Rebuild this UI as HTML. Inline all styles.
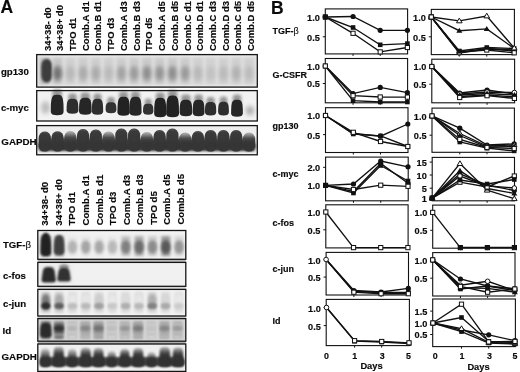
<!DOCTYPE html><html><head><meta charset="utf-8"><style>html,body{margin:0;padding:0;background:#fff;width:520px;height:372px;overflow:hidden}svg{display:block;filter:grayscale(1)}text{font-family:"Liberation Sans",sans-serif;fill:#0a0a0a;stroke:#0a0a0a;stroke-width:0.15px}</style></head><body>
<svg width="520" height="372" viewBox="0 0 520 372">
<defs><filter id="f75" x="-50%" y="-50%" width="200%" height="200%"><feGaussianBlur stdDeviation="0.75"/></filter><filter id="f80" x="-50%" y="-50%" width="200%" height="200%"><feGaussianBlur stdDeviation="0.8"/></filter><filter id="f90" x="-50%" y="-50%" width="200%" height="200%"><feGaussianBlur stdDeviation="0.9"/></filter><filter id="f100" x="-50%" y="-50%" width="200%" height="200%"><feGaussianBlur stdDeviation="1.0"/></filter><filter id="f110" x="-50%" y="-50%" width="200%" height="200%"><feGaussianBlur stdDeviation="1.1"/></filter><filter id="f120" x="-50%" y="-50%" width="200%" height="200%"><feGaussianBlur stdDeviation="1.2"/></filter><filter id="f130" x="-50%" y="-50%" width="200%" height="200%"><feGaussianBlur stdDeviation="1.3"/></filter><filter id="f150" x="-50%" y="-50%" width="200%" height="200%"><feGaussianBlur stdDeviation="1.5"/></filter><filter id="f160" x="-50%" y="-50%" width="200%" height="200%"><feGaussianBlur stdDeviation="1.6"/></filter><filter id="f170" x="-50%" y="-50%" width="200%" height="200%"><feGaussianBlur stdDeviation="1.7"/></filter><filter id="f180" x="-50%" y="-50%" width="200%" height="200%"><feGaussianBlur stdDeviation="1.8"/></filter><filter id="f200" x="-50%" y="-50%" width="200%" height="200%"><feGaussianBlur stdDeviation="2.0"/></filter>
<linearGradient id="gA" x1="0" y1="0" x2="0" y2="1"><stop offset="0" stop-color="#555"/><stop offset="0.12" stop-color="#3a3a3a"/><stop offset="1" stop-color="#363636"/></linearGradient>
<linearGradient id="gB" x1="0" y1="0" x2="0" y2="1"><stop offset="0" stop-color="#b8b8b8"/><stop offset="0.3" stop-color="#4c4c4c"/><stop offset="0.45" stop-color="#3c3c3c"/><stop offset="1" stop-color="#383838"/></linearGradient>
<linearGradient id="gD" x1="0" y1="0" x2="0" y2="1"><stop offset="0" stop-color="#b4b4b4"/><stop offset="0.3" stop-color="#444"/><stop offset="0.45" stop-color="#353535"/><stop offset="1" stop-color="#333"/></linearGradient>
<linearGradient id="gE" x1="0" y1="0" x2="0" y2="1"><stop offset="0" stop-color="#cccccc"/><stop offset="0.4" stop-color="#555"/><stop offset="0.55" stop-color="#383838"/><stop offset="1" stop-color="#353535"/></linearGradient>
</defs>
<text x="0.5" y="12.7" font-size="17.5" text-anchor="start" font-weight="bold" >A</text>
<text transform="translate(50.6,51.0) rotate(-90)" font-size="9.5" font-weight="bold">34+38- d0</text>
<text transform="translate(63.32,51.0) rotate(-90)" font-size="9.5" font-weight="bold">34+38+ d0</text>
<text transform="translate(76.04,51.0) rotate(-90)" font-size="9.5" font-weight="bold">TPO d1</text>
<text transform="translate(88.76,51.0) rotate(-90)" font-size="9.5" font-weight="bold">Comb.A d1</text>
<text transform="translate(101.48,51.0) rotate(-90)" font-size="9.5" font-weight="bold">Comb.B d1</text>
<text transform="translate(114.2,51.0) rotate(-90)" font-size="9.5" font-weight="bold">TPO d3</text>
<text transform="translate(126.92000000000002,51.0) rotate(-90)" font-size="9.5" font-weight="bold">Comb.A d3</text>
<text transform="translate(139.64000000000001,51.0) rotate(-90)" font-size="9.5" font-weight="bold">Comb.B d3</text>
<text transform="translate(152.36,51.0) rotate(-90)" font-size="9.5" font-weight="bold">TPO d5</text>
<text transform="translate(165.08,51.0) rotate(-90)" font-size="9.5" font-weight="bold">Comb.A d5</text>
<text transform="translate(177.8,51.0) rotate(-90)" font-size="9.5" font-weight="bold">Comb.B d5</text>
<text transform="translate(190.52,51.0) rotate(-90)" font-size="9.5" font-weight="bold">Comb.C d1</text>
<text transform="translate(203.24,51.0) rotate(-90)" font-size="9.5" font-weight="bold">Comb.D d1</text>
<text transform="translate(215.96,51.0) rotate(-90)" font-size="9.5" font-weight="bold">Comb.C d3</text>
<text transform="translate(228.68,51.0) rotate(-90)" font-size="9.5" font-weight="bold">Comb.D d3</text>
<text transform="translate(241.4,51.0) rotate(-90)" font-size="9.5" font-weight="bold">Comb.C d5</text>
<text transform="translate(254.12,51.0) rotate(-90)" font-size="9.5" font-weight="bold">Comb.D d5</text>
<text x="0.9" y="75.3" font-size="9.7" text-anchor="start" font-weight="bold" >gp130</text>
<text x="0.9" y="110.7" font-size="9.7" text-anchor="start" font-weight="bold" >c-myc</text>
<text x="1.3" y="145.3" font-size="9.8" text-anchor="start" font-weight="bold" >GAPDH</text>
<rect x="36.70" y="54.60" width="220.60" height="32.50" fill="#e8e8e8" opacity="1.0"/>
<rect x="38.00" y="57.00" width="218.00" height="28.00" fill="#dedede" opacity="1.0" filter="url(#f100)"/>
<rect x="40.30" y="58.00" width="9.00" height="26.00" fill="#bababa" opacity="1.0" filter="url(#f150)"/>
<rect x="41.2" y="59.0" width="11" height="23.5" rx="5.2" ry="7" fill="#3e3e3e" filter="url(#f90)"/>
<rect x="53.06" y="58.00" width="9.00" height="26.00" fill="#c6c6c6" opacity="1.0" filter="url(#f150)"/>
<ellipse cx="57.56" cy="73.20" rx="4.30" ry="7.50" fill="#707070" opacity="1.0" filter="url(#f200)"/>
<rect x="65.82" y="58.00" width="9.00" height="26.00" fill="#d0d0d0" opacity="1.0" filter="url(#f150)"/>
<ellipse cx="70.32" cy="73.20" rx="4.30" ry="7.50" fill="#b8b8b8" opacity="1.0" filter="url(#f200)"/>
<rect x="78.58" y="58.00" width="9.00" height="26.00" fill="#cecece" opacity="1.0" filter="url(#f150)"/>
<ellipse cx="83.08" cy="73.20" rx="4.30" ry="7.50" fill="#aaaaaa" opacity="1.0" filter="url(#f200)"/>
<rect x="91.34" y="58.00" width="9.00" height="26.00" fill="#cecece" opacity="1.0" filter="url(#f150)"/>
<ellipse cx="95.84" cy="73.20" rx="4.30" ry="7.50" fill="#aaaaaa" opacity="1.0" filter="url(#f200)"/>
<rect x="104.10" y="58.00" width="9.00" height="26.00" fill="#d0d0d0" opacity="1.0" filter="url(#f150)"/>
<ellipse cx="108.60" cy="73.20" rx="4.30" ry="7.50" fill="#bababa" opacity="1.0" filter="url(#f200)"/>
<rect x="116.86" y="58.00" width="9.00" height="26.00" fill="#cdcdcd" opacity="1.0" filter="url(#f150)"/>
<ellipse cx="121.36" cy="73.20" rx="4.30" ry="7.50" fill="#a1a1a1" opacity="1.0" filter="url(#f200)"/>
<rect x="129.62" y="58.00" width="9.00" height="26.00" fill="#cccccc" opacity="1.0" filter="url(#f150)"/>
<ellipse cx="134.12" cy="73.20" rx="4.30" ry="7.50" fill="#9a9a9a" opacity="1.0" filter="url(#f200)"/>
<rect x="142.38" y="58.00" width="9.00" height="26.00" fill="#cacaca" opacity="1.0" filter="url(#f150)"/>
<ellipse cx="146.88" cy="73.20" rx="4.30" ry="7.50" fill="#8c8c8c" opacity="1.0" filter="url(#f200)"/>
<rect x="155.14" y="58.00" width="9.00" height="26.00" fill="#cbcbcb" opacity="1.0" filter="url(#f150)"/>
<ellipse cx="159.64" cy="73.20" rx="4.30" ry="7.50" fill="#939393" opacity="1.0" filter="url(#f200)"/>
<rect x="167.90" y="58.00" width="9.00" height="26.00" fill="#cacaca" opacity="1.0" filter="url(#f150)"/>
<ellipse cx="172.40" cy="73.20" rx="4.30" ry="7.50" fill="#8c8c8c" opacity="1.0" filter="url(#f200)"/>
<rect x="180.66" y="58.00" width="9.00" height="26.00" fill="#cccccc" opacity="1.0" filter="url(#f150)"/>
<ellipse cx="185.16" cy="73.20" rx="4.30" ry="7.50" fill="#989898" opacity="1.0" filter="url(#f200)"/>
<rect x="193.42" y="58.00" width="9.00" height="26.00" fill="#d0d0d0" opacity="1.0" filter="url(#f150)"/>
<ellipse cx="197.92" cy="73.20" rx="4.30" ry="7.50" fill="#b8b8b8" opacity="1.0" filter="url(#f200)"/>
<rect x="206.18" y="58.00" width="9.00" height="26.00" fill="#d1d1d1" opacity="1.0" filter="url(#f150)"/>
<ellipse cx="210.68" cy="73.20" rx="4.30" ry="7.50" fill="#c1c1c1" opacity="1.0" filter="url(#f200)"/>
<rect x="218.94" y="58.00" width="9.00" height="26.00" fill="#d0d0d0" opacity="1.0" filter="url(#f150)"/>
<ellipse cx="223.44" cy="73.20" rx="4.30" ry="7.50" fill="#bababa" opacity="1.0" filter="url(#f200)"/>
<rect x="231.70" y="58.00" width="9.00" height="26.00" fill="#cfcfcf" opacity="1.0" filter="url(#f150)"/>
<ellipse cx="236.20" cy="73.20" rx="4.30" ry="7.50" fill="#b1b1b1" opacity="1.0" filter="url(#f200)"/>
<rect x="244.46" y="58.00" width="9.00" height="26.00" fill="#d0d0d0" opacity="1.0" filter="url(#f150)"/>
<ellipse cx="248.96" cy="73.20" rx="4.30" ry="7.50" fill="#bcbcbc" opacity="1.0" filter="url(#f200)"/>
<rect x="36.7" y="54.6" width="220.60" height="32.50" fill="none" stroke="#151515" stroke-width="1.3"/>
<rect x="36.70" y="90.60" width="220.60" height="30.40" fill="#f2f2f2" opacity="1.0"/>
<ellipse cx="45.50" cy="107.50" rx="4.50" ry="6.50" fill="#bebebe" opacity="1.0" filter="url(#f200)"/>
<rect x="52.45" y="89.50" width="9.50" height="11" rx="3" fill="#959595" filter="url(#f160)"/>
<path d="M50.80,111.80 C50.80,97.17 51.74,94.70 57.20,94.70 C62.66,94.70 63.60,97.17 63.60,111.80 Q63.60,115.30 57.20,115.30 Q50.80,115.30 50.80,111.80 Z" fill="#262626" opacity="1.0" filter="url(#f75)"/>
<rect x="68.25" y="93.50" width="8.50" height="11" rx="3" fill="#959595" filter="url(#f160)"/>
<path d="M66.60,110.30 C66.60,100.51 67.51,98.70 72.50,98.70 C77.49,98.70 78.40,100.51 78.40,110.30 Q78.40,113.80 72.50,113.80 Q66.60,113.80 66.60,110.30 Z" fill="#2d2d2d" opacity="1.0" filter="url(#f75)"/>
<rect x="80.65" y="92.50" width="9.30" height="11" rx="3" fill="#959595" filter="url(#f160)"/>
<path d="M79.00,111.30 C79.00,99.75 79.93,97.70 85.30,97.70 C90.67,97.70 91.60,99.75 91.60,111.30 Q91.60,114.80 85.30,114.80 Q79.00,114.80 79.00,111.30 Z" fill="#282828" opacity="1.0" filter="url(#f75)"/>
<rect x="93.50" y="93.50" width="8.00" height="11" rx="3" fill="#959595" filter="url(#f160)"/>
<path d="M91.85,111.30 C91.85,100.63 92.75,98.70 97.50,98.70 C102.25,98.70 103.15,100.63 103.15,111.30 Q103.15,114.80 97.50,114.80 Q91.85,114.80 91.85,111.30 Z" fill="#2d2d2d" opacity="1.0" filter="url(#f75)"/>
<rect x="107.25" y="97.00" width="7.50" height="11" rx="3" fill="#959595" filter="url(#f160)"/>
<path d="M105.60,109.80 C105.60,103.53 106.49,102.20 111.00,102.20 C115.51,102.20 116.40,103.53 116.40,109.80 Q116.40,113.30 111.00,113.30 Q105.60,113.30 105.60,109.80 Z" fill="#323232" opacity="1.0" filter="url(#f75)"/>
<rect x="119.10" y="91.50" width="9.00" height="11" rx="3" fill="#959595" filter="url(#f160)"/>
<path d="M117.45,112.30 C117.45,98.99 118.38,96.70 123.60,96.70 C128.82,96.70 129.75,98.99 129.75,112.30 Q129.75,115.80 123.60,115.80 Q117.45,115.80 117.45,112.30 Z" fill="#242424" opacity="1.0" filter="url(#f75)"/>
<rect x="131.10" y="91.50" width="8.80" height="11" rx="3" fill="#959595" filter="url(#f160)"/>
<path d="M129.45,112.30 C129.45,98.99 130.37,96.70 135.50,96.70 C140.63,96.70 141.55,98.99 141.55,112.30 Q141.55,115.80 135.50,115.80 Q129.45,115.80 129.45,112.30 Z" fill="#282828" opacity="1.0" filter="url(#f75)"/>
<rect x="144.70" y="98.50" width="7.00" height="11" rx="3" fill="#959595" filter="url(#f160)"/>
<path d="M143.05,111.30 C143.05,105.03 143.92,103.70 148.20,103.70 C152.47,103.70 153.35,105.03 153.35,111.30 Q153.35,114.80 148.20,114.80 Q143.05,114.80 143.05,111.30 Z" fill="#323232" opacity="1.0" filter="url(#f75)"/>
<rect x="155.80" y="92.50" width="8.80" height="11" rx="3" fill="#959595" filter="url(#f160)"/>
<path d="M154.15,113.80 C154.15,100.05 155.07,97.70 160.20,97.70 C165.33,97.70 166.25,100.05 166.25,113.80 Q166.25,117.30 160.20,117.30 Q154.15,117.30 154.15,113.80 Z" fill="#242424" opacity="1.0" filter="url(#f75)"/>
<rect x="167.85" y="90.20" width="9.50" height="11" rx="3" fill="#959595" filter="url(#f160)"/>
<path d="M166.20,113.80 C166.20,98.03 167.14,95.40 172.60,95.40 C178.06,95.40 179.00,98.03 179.00,113.80 Q179.00,117.30 172.60,117.30 Q166.20,117.30 166.20,113.80 Z" fill="#222222" opacity="1.0" filter="url(#f75)"/>
<rect x="181.25" y="94.50" width="9.30" height="11" rx="3" fill="#959595" filter="url(#f160)"/>
<path d="M179.60,112.80 C179.60,101.69 180.53,99.70 185.90,99.70 C191.27,99.70 192.20,101.69 192.20,112.80 Q192.20,116.30 185.90,116.30 Q179.60,116.30 179.60,112.80 Z" fill="#282828" opacity="1.0" filter="url(#f75)"/>
<rect x="194.35" y="94.50" width="8.50" height="11" rx="3" fill="#959595" filter="url(#f160)"/>
<path d="M192.70,112.80 C192.70,101.69 193.61,99.70 198.60,99.70 C203.59,99.70 204.50,101.69 204.50,112.80 Q204.50,116.30 198.60,116.30 Q192.70,116.30 192.70,112.80 Z" fill="#282828" opacity="1.0" filter="url(#f75)"/>
<rect x="206.60" y="96.90" width="8.00" height="11" rx="3" fill="#959595" filter="url(#f160)"/>
<path d="M204.95,112.10 C204.95,103.72 205.85,102.10 210.60,102.10 C215.35,102.10 216.25,103.72 216.25,112.10 Q216.25,115.60 210.60,115.60 Q204.95,115.60 204.95,112.10 Z" fill="#2d2d2d" opacity="1.0" filter="url(#f75)"/>
<rect x="219.75" y="96.50" width="7.50" height="11" rx="3" fill="#959595" filter="url(#f160)"/>
<path d="M218.10,112.10 C218.10,103.37 218.99,101.70 223.50,101.70 C228.01,101.70 228.90,103.37 228.90,112.10 Q228.90,115.60 223.50,115.60 Q218.10,115.60 218.10,112.10 Z" fill="#2d2d2d" opacity="1.0" filter="url(#f75)"/>
<rect x="232.75" y="94.50" width="8.50" height="11" rx="3" fill="#959595" filter="url(#f160)"/>
<path d="M231.10,113.30 C231.10,101.75 232.01,99.70 237.00,99.70 C241.99,99.70 242.90,101.75 242.90,113.30 Q242.90,116.80 237.00,116.80 Q231.10,116.80 231.10,113.30 Z" fill="#282828" opacity="1.0" filter="url(#f75)"/>
<ellipse cx="250.00" cy="110.65" rx="4.25" ry="4.85" fill="#b2b2b2" opacity="1.0" filter="url(#f200)"/>
<rect x="36.7" y="90.6" width="220.60" height="30.40" fill="none" stroke="#151515" stroke-width="1.3"/>
<rect x="36.70" y="125.60" width="220.60" height="29.20" fill="#eeeeee" opacity="1.0"/>
<rect x="39.50" y="138.50" width="215.00" height="12.50" fill="#3c3c3c" opacity="1.0" filter="url(#f100)"/>
<rect x="38.70" y="131.50" width="12.2" height="20.10" rx="5.5" ry="6.5" fill="url(#gA)" filter="url(#f75)"/>
<ellipse cx="44.80" cy="146.00" rx="7.00" ry="5.00" fill="#363636" opacity="1.0" filter="url(#f90)"/>
<rect x="51.46" y="131.30" width="12.2" height="20.30" rx="5.5" ry="6.5" fill="url(#gA)" filter="url(#f75)"/>
<ellipse cx="57.56" cy="146.00" rx="7.00" ry="5.00" fill="#363636" opacity="1.0" filter="url(#f90)"/>
<rect x="64.22" y="131.00" width="12.2" height="20.60" rx="5.5" ry="6.5" fill="url(#gB)" filter="url(#f75)"/>
<ellipse cx="70.32" cy="146.00" rx="7.00" ry="5.00" fill="#363636" opacity="1.0" filter="url(#f90)"/>
<rect x="76.98" y="129.00" width="12.2" height="22.60" rx="5.5" ry="6.5" fill="url(#gA)" filter="url(#f75)"/>
<ellipse cx="83.08" cy="146.00" rx="7.00" ry="5.00" fill="#363636" opacity="1.0" filter="url(#f90)"/>
<rect x="89.74" y="129.50" width="12.2" height="22.10" rx="5.5" ry="6.5" fill="url(#gA)" filter="url(#f75)"/>
<ellipse cx="95.84" cy="146.00" rx="7.00" ry="5.00" fill="#363636" opacity="1.0" filter="url(#f90)"/>
<rect x="102.50" y="131.50" width="12.2" height="20.10" rx="5.5" ry="6.5" fill="url(#gB)" filter="url(#f75)"/>
<ellipse cx="108.60" cy="146.00" rx="7.00" ry="5.00" fill="#363636" opacity="1.0" filter="url(#f90)"/>
<rect x="115.26" y="128.50" width="12.2" height="23.10" rx="5.5" ry="6.5" fill="url(#gA)" filter="url(#f75)"/>
<ellipse cx="121.36" cy="146.00" rx="7.00" ry="5.00" fill="#363636" opacity="1.0" filter="url(#f90)"/>
<rect x="128.02" y="128.50" width="12.2" height="23.10" rx="5.5" ry="6.5" fill="url(#gA)" filter="url(#f75)"/>
<ellipse cx="134.12" cy="146.00" rx="7.00" ry="5.00" fill="#363636" opacity="1.0" filter="url(#f90)"/>
<rect x="140.78" y="132.00" width="12.2" height="19.60" rx="5.5" ry="6.5" fill="url(#gB)" filter="url(#f75)"/>
<ellipse cx="146.88" cy="146.00" rx="7.00" ry="5.00" fill="#363636" opacity="1.0" filter="url(#f90)"/>
<rect x="153.54" y="130.00" width="12.2" height="21.60" rx="5.5" ry="6.5" fill="url(#gA)" filter="url(#f75)"/>
<ellipse cx="159.64" cy="146.00" rx="7.00" ry="5.00" fill="#363636" opacity="1.0" filter="url(#f90)"/>
<rect x="166.30" y="128.50" width="12.2" height="23.10" rx="5.5" ry="6.5" fill="url(#gA)" filter="url(#f75)"/>
<ellipse cx="172.40" cy="146.00" rx="7.00" ry="5.00" fill="#363636" opacity="1.0" filter="url(#f90)"/>
<rect x="179.06" y="132.50" width="12.2" height="19.10" rx="5.5" ry="6.5" fill="url(#gB)" filter="url(#f75)"/>
<ellipse cx="185.16" cy="146.00" rx="7.00" ry="5.00" fill="#363636" opacity="1.0" filter="url(#f90)"/>
<rect x="191.82" y="131.00" width="12.2" height="20.60" rx="5.5" ry="6.5" fill="url(#gA)" filter="url(#f75)"/>
<ellipse cx="197.92" cy="146.00" rx="7.00" ry="5.00" fill="#363636" opacity="1.0" filter="url(#f90)"/>
<rect x="204.58" y="130.00" width="12.2" height="21.60" rx="5.5" ry="6.5" fill="url(#gA)" filter="url(#f75)"/>
<ellipse cx="210.68" cy="146.00" rx="7.00" ry="5.00" fill="#363636" opacity="1.0" filter="url(#f90)"/>
<rect x="217.34" y="130.00" width="12.2" height="21.60" rx="5.5" ry="6.5" fill="url(#gA)" filter="url(#f75)"/>
<ellipse cx="223.44" cy="146.00" rx="7.00" ry="5.00" fill="#363636" opacity="1.0" filter="url(#f90)"/>
<rect x="230.10" y="130.00" width="12.2" height="21.60" rx="5.5" ry="6.5" fill="url(#gA)" filter="url(#f75)"/>
<ellipse cx="236.20" cy="146.00" rx="7.00" ry="5.00" fill="#363636" opacity="1.0" filter="url(#f90)"/>
<rect x="242.86" y="132.50" width="12.2" height="19.10" rx="5.5" ry="6.5" fill="url(#gB)" filter="url(#f75)"/>
<ellipse cx="248.96" cy="146.00" rx="7.00" ry="5.00" fill="#363636" opacity="1.0" filter="url(#f90)"/>
<rect x="36.7" y="125.6" width="220.60" height="29.20" fill="none" stroke="#151515" stroke-width="1.3"/>
<text transform="translate(48.3,225.8) rotate(-90)" font-size="9.6" font-weight="bold">34+38- d0</text>
<text transform="translate(61.849999999999994,225.68) rotate(-90)" font-size="9.6" font-weight="bold">34+38+ d0</text>
<text transform="translate(75.4,225.56) rotate(-90)" font-size="9.6" font-weight="bold">TPO d1</text>
<text transform="translate(88.95,225.44) rotate(-90)" font-size="9.6" font-weight="bold">Comb.A d1</text>
<text transform="translate(102.5,225.32000000000002) rotate(-90)" font-size="9.6" font-weight="bold">Comb.B d1</text>
<text transform="translate(116.05,225.20000000000002) rotate(-90)" font-size="9.6" font-weight="bold">TPO d3</text>
<text transform="translate(129.60000000000002,225.08) rotate(-90)" font-size="9.6" font-weight="bold">Comb.A d3</text>
<text transform="translate(143.15,224.96) rotate(-90)" font-size="9.6" font-weight="bold">Comb.B d3</text>
<text transform="translate(156.7,224.84) rotate(-90)" font-size="9.6" font-weight="bold">TPO d5</text>
<text transform="translate(170.25,224.72) rotate(-90)" font-size="9.6" font-weight="bold">Comb.A d5</text>
<text transform="translate(183.8,224.60000000000002) rotate(-90)" font-size="9.6" font-weight="bold">Comb.B d5</text>
<text x="3.0" y="248" font-size="9.6" text-anchor="start" font-weight="bold" >TGF-<tspan font-weight="normal">β</tspan></text>
<text x="3.0" y="278.8" font-size="9.6" text-anchor="start" font-weight="bold" >c-fos</text>
<text x="3.0" y="306.6" font-size="9.7" text-anchor="start" font-weight="bold" >c-jun</text>
<text x="2.5" y="333.8" font-size="9.8" text-anchor="start" font-weight="bold" >Id</text>
<text x="1.5" y="359.6" font-size="9.8" text-anchor="start" font-weight="bold" >GAPDH</text>
<rect x="37.80" y="259.30" width="148.00" height="3.10" fill="#b9b9b9" opacity="1.0"/>
<rect x="37.80" y="286.30" width="148.00" height="3.10" fill="#d7d7d7" opacity="1.0"/>
<rect x="37.80" y="316.00" width="148.00" height="2.60" fill="#cdcdcd" opacity="1.0"/>
<rect x="37.80" y="341.20" width="148.00" height="2.80" fill="#afafaf" opacity="1.0"/>
<rect x="37.80" y="230.50" width="148.00" height="28.80" fill="#f1f1f1" opacity="1.0"/>
<rect x="41.30" y="236.00" width="9.00" height="20.00" fill="#5f5f5f" opacity="1.0" filter="url(#f150)"/>
<path d="M40.55,252.00 C40.55,239.76 41.30,232.80 45.80,232.80 C50.30,232.80 51.05,239.76 51.05,252.00 Q51.05,256.00 45.80,256.00 Q40.55,256.00 40.55,252.00 Z" fill="#202020" opacity="1.0" filter="url(#f90)"/>
<rect x="54.63" y="236.00" width="9.00" height="20.00" fill="#878787" opacity="1.0" filter="url(#f150)"/>
<path d="M53.88,251.00 C53.88,241.00 54.63,235.00 59.13,235.00 C63.63,235.00 64.38,241.00 64.38,251.00 Q64.38,255.00 59.13,255.00 Q53.88,255.00 53.88,251.00 Z" fill="#414141" opacity="1.0" filter="url(#f100)"/>
<rect x="67.96" y="236.00" width="9.00" height="20.00" fill="#e8e8e8" opacity="1.0" filter="url(#f150)"/>
<ellipse cx="72.46" cy="247.00" rx="4.70" ry="6.80" fill="#b4b4b4" opacity="1.0" filter="url(#f170)"/>
<rect x="81.29" y="236.00" width="9.00" height="20.00" fill="#e6e6e6" opacity="1.0" filter="url(#f150)"/>
<ellipse cx="85.79" cy="247.00" rx="4.70" ry="6.80" fill="#a5a5a5" opacity="1.0" filter="url(#f170)"/>
<rect x="94.62" y="236.00" width="9.00" height="20.00" fill="#e8e8e8" opacity="1.0" filter="url(#f150)"/>
<ellipse cx="99.12" cy="247.00" rx="4.70" ry="6.80" fill="#a8a8a8" opacity="1.0" filter="url(#f170)"/>
<rect x="107.95" y="236.00" width="9.00" height="20.00" fill="#e8e8e8" opacity="1.0" filter="url(#f150)"/>
<ellipse cx="112.45" cy="247.00" rx="4.70" ry="6.80" fill="#b9b9b9" opacity="1.0" filter="url(#f170)"/>
<rect x="121.28" y="236.00" width="9.00" height="20.00" fill="#c1c1c1" opacity="1.0" filter="url(#f150)"/>
<ellipse cx="125.78" cy="247.00" rx="4.70" ry="6.80" fill="#808080" opacity="1.0" filter="url(#f170)"/>
<rect x="134.61" y="236.00" width="9.00" height="20.00" fill="#adadad" opacity="1.0" filter="url(#f150)"/>
<ellipse cx="139.11" cy="247.00" rx="4.70" ry="6.80" fill="#6c6c6c" opacity="1.0" filter="url(#f170)"/>
<rect x="147.94" y="236.00" width="9.00" height="20.00" fill="#cdcdcd" opacity="1.0" filter="url(#f150)"/>
<ellipse cx="152.44" cy="247.00" rx="4.70" ry="6.80" fill="#8c8c8c" opacity="1.0" filter="url(#f170)"/>
<rect x="161.27" y="236.00" width="9.00" height="20.00" fill="#999999" opacity="1.0" filter="url(#f150)"/>
<ellipse cx="165.77" cy="247.00" rx="4.70" ry="6.80" fill="#585858" opacity="1.0" filter="url(#f170)"/>
<rect x="174.60" y="236.00" width="9.00" height="20.00" fill="#d7d7d7" opacity="1.0" filter="url(#f150)"/>
<ellipse cx="179.10" cy="247.00" rx="4.70" ry="6.80" fill="#969696" opacity="1.0" filter="url(#f170)"/>
<rect x="37.8" y="230.5" width="148.00" height="28.80" fill="none" stroke="#151515" stroke-width="1.3"/>
<rect x="37.80" y="262.40" width="148.00" height="23.90" fill="#f1f1f1" opacity="1.0"/>
<rect x="39.50" y="264.50" width="33.00" height="20.00" fill="#ececec" opacity="1.0" filter="url(#f150)"/>
<path d="M47.45 267.00 L49.95 267.00 Q53.95 267.00 54.56 271.00 L55.77 279.00 Q56.30 282.50 52.80 282.50 L44.60 282.50 Q41.10 282.50 41.63 279.00 L42.84 271.00 Q43.45 267.00 47.45 267.00 Z" fill="#2a2a2a" opacity="1.0" filter="url(#f80)"/>
<ellipse cx="64.00" cy="267.00" rx="5.00" ry="3.00" fill="#969696" opacity="1.0" filter="url(#f120)"/>
<path d="M63.00 267.80 L65.00 267.80 Q69.00 267.80 69.64 271.80 L70.64 278.10 Q71.20 281.60 67.70 281.60 L60.30 281.60 Q56.80 281.60 57.36 278.10 L58.36 271.80 Q59.00 267.80 63.00 267.80 Z" fill="#303030" opacity="1.0" filter="url(#f80)"/>
<rect x="37.8" y="262.4" width="148.00" height="23.90" fill="none" stroke="#151515" stroke-width="1.3"/>
<rect x="37.80" y="289.40" width="148.00" height="26.60" fill="#f3f3f3" opacity="1.0"/>
<rect x="41.30" y="292.00" width="9.00" height="21.00" fill="#c7c7c7" opacity="1.0" filter="url(#f150)"/>
<ellipse cx="45.80" cy="300.50" rx="4.20" ry="6.50" fill="#787878" opacity="1.0" filter="url(#f180)"/>
<ellipse cx="45.80" cy="306.00" rx="4.80" ry="3.80" fill="#2d2d2d" opacity="1.0" filter="url(#f120)"/>
<rect x="54.60" y="292.00" width="9.00" height="21.00" fill="#cecece" opacity="1.0" filter="url(#f150)"/>
<ellipse cx="59.10" cy="300.50" rx="4.20" ry="6.50" fill="#aaaaaa" opacity="1.0" filter="url(#f180)"/>
<ellipse cx="59.10" cy="306.00" rx="4.80" ry="3.20" fill="#5f5f5f" opacity="1.0" filter="url(#f120)"/>
<rect x="67.90" y="292.00" width="9.00" height="21.00" fill="#dcdcdc" opacity="1.0" filter="url(#f150)"/>
<ellipse cx="72.40" cy="300.50" rx="4.20" ry="6.50" fill="#e8e8e8" opacity="1.0" filter="url(#f180)"/>
<ellipse cx="72.40" cy="306.00" rx="4.80" ry="3.20" fill="#bebebe" opacity="1.0" filter="url(#f120)"/>
<rect x="81.20" y="292.00" width="9.00" height="21.00" fill="#dcdcdc" opacity="1.0" filter="url(#f150)"/>
<ellipse cx="85.70" cy="300.50" rx="4.20" ry="6.50" fill="#e6e6e6" opacity="1.0" filter="url(#f180)"/>
<ellipse cx="85.70" cy="306.00" rx="4.80" ry="3.20" fill="#b9b9b9" opacity="1.0" filter="url(#f120)"/>
<rect x="94.50" y="292.00" width="9.00" height="21.00" fill="#d8d8d8" opacity="1.0" filter="url(#f150)"/>
<ellipse cx="99.00" cy="300.50" rx="4.20" ry="6.50" fill="#cdcdcd" opacity="1.0" filter="url(#f180)"/>
<ellipse cx="99.00" cy="306.00" rx="4.80" ry="3.20" fill="#a0a0a0" opacity="1.0" filter="url(#f120)"/>
<rect x="107.80" y="292.00" width="9.00" height="21.00" fill="#dedede" opacity="1.0" filter="url(#f150)"/>
<ellipse cx="112.30" cy="300.50" rx="4.20" ry="6.50" fill="#e8e8e8" opacity="1.0" filter="url(#f180)"/>
<ellipse cx="112.30" cy="306.00" rx="4.80" ry="3.20" fill="#c8c8c8" opacity="1.0" filter="url(#f120)"/>
<rect x="121.10" y="292.00" width="9.00" height="21.00" fill="#dadada" opacity="1.0" filter="url(#f150)"/>
<ellipse cx="125.60" cy="300.50" rx="4.20" ry="6.50" fill="#dcdcdc" opacity="1.0" filter="url(#f180)"/>
<ellipse cx="125.60" cy="306.00" rx="4.80" ry="3.20" fill="#afafaf" opacity="1.0" filter="url(#f120)"/>
<rect x="134.40" y="292.00" width="9.00" height="21.00" fill="#dcdcdc" opacity="1.0" filter="url(#f150)"/>
<ellipse cx="138.90" cy="300.50" rx="4.20" ry="6.50" fill="#e6e6e6" opacity="1.0" filter="url(#f180)"/>
<ellipse cx="138.90" cy="306.00" rx="4.80" ry="3.20" fill="#b9b9b9" opacity="1.0" filter="url(#f120)"/>
<rect x="147.70" y="292.00" width="9.00" height="21.00" fill="#d4d4d4" opacity="1.0" filter="url(#f150)"/>
<ellipse cx="152.20" cy="300.50" rx="4.20" ry="6.50" fill="#afafaf" opacity="1.0" filter="url(#f180)"/>
<ellipse cx="152.20" cy="306.00" rx="4.80" ry="3.20" fill="#828282" opacity="1.0" filter="url(#f120)"/>
<rect x="161.00" y="292.00" width="9.00" height="21.00" fill="#dadada" opacity="1.0" filter="url(#f150)"/>
<ellipse cx="165.50" cy="300.50" rx="4.20" ry="6.50" fill="#d7d7d7" opacity="1.0" filter="url(#f180)"/>
<ellipse cx="165.50" cy="306.00" rx="4.80" ry="3.20" fill="#aaaaaa" opacity="1.0" filter="url(#f120)"/>
<rect x="174.30" y="292.00" width="9.00" height="21.00" fill="#dfdfdf" opacity="1.0" filter="url(#f150)"/>
<ellipse cx="178.80" cy="300.50" rx="4.20" ry="6.50" fill="#e8e8e8" opacity="1.0" filter="url(#f180)"/>
<ellipse cx="178.80" cy="306.00" rx="4.80" ry="3.20" fill="#cdcdcd" opacity="1.0" filter="url(#f120)"/>
<rect x="37.8" y="289.4" width="148.00" height="26.60" fill="none" stroke="#151515" stroke-width="1.3"/>
<rect x="37.80" y="318.60" width="148.00" height="22.60" fill="#d6d6d6" opacity="1.0"/>
<rect x="41.00" y="321.00" width="9.60" height="18.00" fill="#8c8c8c" opacity="1.0" filter="url(#f120)"/>
<path d="M40.05,335.00 C40.05,325.68 40.55,322.60 45.80,322.60 C51.05,322.60 51.55,325.68 51.55,335.00 Q51.55,338.00 45.80,338.00 Q40.05,338.00 40.05,335.00 Z" fill="#2a2a2a" opacity="1.0" filter="url(#f80)"/>
<rect x="54.18" y="321.00" width="9.60" height="18.00" fill="#939393" opacity="1.0" filter="url(#f120)"/>
<rect x="54.38" y="323.50" width="9.20" height="10.00" fill="#5f5f5f" opacity="1.0" filter="url(#f130)"/>
<ellipse cx="58.98" cy="328.30" rx="4.80" ry="2.90" fill="#323232" opacity="1.0" filter="url(#f110)"/>
<ellipse cx="58.98" cy="337.00" rx="4.20" ry="1.30" fill="#6e6e6e" opacity="1.0" filter="url(#f80)"/>
<rect x="67.36" y="321.00" width="9.60" height="18.00" fill="#bdbdbd" opacity="1.0" filter="url(#f120)"/>
<rect x="67.56" y="323.50" width="9.20" height="10.00" fill="#cdcdcd" opacity="1.0" filter="url(#f130)"/>
<ellipse cx="72.16" cy="328.30" rx="4.80" ry="2.90" fill="#b4b4b4" opacity="1.0" filter="url(#f110)"/>
<ellipse cx="72.16" cy="337.00" rx="4.20" ry="1.30" fill="#d7d7d7" opacity="1.0" filter="url(#f80)"/>
<rect x="80.54" y="321.00" width="9.60" height="18.00" fill="#adadad" opacity="1.0" filter="url(#f120)"/>
<rect x="80.74" y="323.50" width="9.20" height="10.00" fill="#aaaaaa" opacity="1.0" filter="url(#f130)"/>
<ellipse cx="85.34" cy="328.30" rx="4.80" ry="2.90" fill="#878787" opacity="1.0" filter="url(#f110)"/>
<ellipse cx="85.34" cy="337.00" rx="4.20" ry="1.30" fill="#b9b9b9" opacity="1.0" filter="url(#f80)"/>
<rect x="93.72" y="321.00" width="9.60" height="18.00" fill="#a6a6a6" opacity="1.0" filter="url(#f120)"/>
<rect x="93.92" y="323.50" width="9.20" height="10.00" fill="#969696" opacity="1.0" filter="url(#f130)"/>
<ellipse cx="98.52" cy="328.30" rx="4.80" ry="2.90" fill="#737373" opacity="1.0" filter="url(#f110)"/>
<ellipse cx="98.52" cy="337.00" rx="4.20" ry="1.30" fill="#a5a5a5" opacity="1.0" filter="url(#f80)"/>
<rect x="106.90" y="321.00" width="9.60" height="18.00" fill="#c0c0c0" opacity="1.0" filter="url(#f120)"/>
<rect x="107.10" y="323.50" width="9.20" height="10.00" fill="#cdcdcd" opacity="1.0" filter="url(#f130)"/>
<ellipse cx="111.70" cy="328.30" rx="4.80" ry="2.90" fill="#bebebe" opacity="1.0" filter="url(#f110)"/>
<ellipse cx="111.70" cy="337.00" rx="4.20" ry="1.30" fill="#d7d7d7" opacity="1.0" filter="url(#f80)"/>
<rect x="120.08" y="321.00" width="9.60" height="18.00" fill="#b2b2b2" opacity="1.0" filter="url(#f120)"/>
<rect x="120.28" y="323.50" width="9.20" height="10.00" fill="#b9b9b9" opacity="1.0" filter="url(#f130)"/>
<ellipse cx="124.88" cy="328.30" rx="4.80" ry="2.90" fill="#969696" opacity="1.0" filter="url(#f110)"/>
<ellipse cx="124.88" cy="337.00" rx="4.20" ry="1.30" fill="#c8c8c8" opacity="1.0" filter="url(#f80)"/>
<rect x="133.26" y="321.00" width="9.60" height="18.00" fill="#aaaaaa" opacity="1.0" filter="url(#f120)"/>
<rect x="133.46" y="323.50" width="9.20" height="10.00" fill="#a0a0a0" opacity="1.0" filter="url(#f130)"/>
<ellipse cx="138.06" cy="328.30" rx="4.80" ry="2.90" fill="#7d7d7d" opacity="1.0" filter="url(#f110)"/>
<ellipse cx="138.06" cy="337.00" rx="4.20" ry="1.30" fill="#afafaf" opacity="1.0" filter="url(#f80)"/>
<rect x="146.44" y="321.00" width="9.60" height="18.00" fill="#c2c2c2" opacity="1.0" filter="url(#f120)"/>
<rect x="146.64" y="323.50" width="9.20" height="10.00" fill="#cdcdcd" opacity="1.0" filter="url(#f130)"/>
<ellipse cx="151.24" cy="328.30" rx="4.80" ry="2.90" fill="#c3c3c3" opacity="1.0" filter="url(#f110)"/>
<ellipse cx="151.24" cy="337.00" rx="4.20" ry="1.30" fill="#d7d7d7" opacity="1.0" filter="url(#f80)"/>
<rect x="159.62" y="321.00" width="9.60" height="18.00" fill="#adadad" opacity="1.0" filter="url(#f120)"/>
<rect x="159.82" y="323.50" width="9.20" height="10.00" fill="#aaaaaa" opacity="1.0" filter="url(#f130)"/>
<ellipse cx="164.42" cy="328.30" rx="4.80" ry="2.90" fill="#878787" opacity="1.0" filter="url(#f110)"/>
<ellipse cx="164.42" cy="337.00" rx="4.20" ry="1.30" fill="#b9b9b9" opacity="1.0" filter="url(#f80)"/>
<rect x="172.80" y="321.00" width="9.60" height="18.00" fill="#b4b4b4" opacity="1.0" filter="url(#f120)"/>
<rect x="173.00" y="323.50" width="9.20" height="10.00" fill="#bebebe" opacity="1.0" filter="url(#f130)"/>
<ellipse cx="177.60" cy="328.30" rx="4.80" ry="2.90" fill="#9b9b9b" opacity="1.0" filter="url(#f110)"/>
<ellipse cx="177.60" cy="337.00" rx="4.20" ry="1.30" fill="#cdcdcd" opacity="1.0" filter="url(#f80)"/>
<rect x="37.8" y="318.6" width="148.00" height="22.60" fill="none" stroke="#151515" stroke-width="1.3"/>
<rect x="37.80" y="344.00" width="148.00" height="27.40" fill="#f0f0f0" opacity="1.0"/>
<rect x="41.00" y="357.00" width="142.00" height="9.00" fill="#484848" opacity="1.0" filter="url(#f120)"/>
<path d="M44.91 348.50 L45.69 348.50 Q49.19 348.50 49.48 352.00 L50.41 363.00 Q50.70 366.50 47.20 366.50 L43.40 366.50 Q39.90 366.50 40.19 363.00 L41.12 352.00 Q41.41 348.50 44.91 348.50 Z" fill="url(#gE)" opacity="1.0" filter="url(#f80)"/>
<ellipse cx="45.30" cy="362.00" rx="5.70" ry="4.80" fill="#303030" opacity="1.0" filter="url(#f90)"/>
<path d="M57.66 346.80 L59.74 346.80 Q63.24 346.80 63.55 350.30 L64.69 363.00 Q65.00 366.50 61.50 366.50 L55.90 366.50 Q52.40 366.50 52.71 363.00 L53.85 350.30 Q54.16 346.80 57.66 346.80 Z" fill="url(#gD)" opacity="1.0" filter="url(#f80)"/>
<ellipse cx="58.70" cy="362.00" rx="6.60" ry="4.80" fill="#303030" opacity="1.0" filter="url(#f90)"/>
<path d="M71.92 348.90 L72.48 348.90 Q75.98 348.90 76.27 352.40 L77.16 363.00 Q77.45 366.50 73.95 366.50 L70.45 366.50 Q66.95 366.50 67.24 363.00 L68.13 352.40 Q68.42 348.90 71.92 348.90 Z" fill="url(#gE)" opacity="1.0" filter="url(#f80)"/>
<ellipse cx="72.20" cy="362.00" rx="5.55" ry="4.80" fill="#303030" opacity="1.0" filter="url(#f90)"/>
<path d="M84.66 347.80 L86.74 347.80 Q90.24 347.80 90.57 351.30 L91.67 363.00 Q92.00 366.50 88.50 366.50 L82.90 366.50 Q79.40 366.50 79.73 363.00 L80.83 351.30 Q81.16 347.80 84.66 347.80 Z" fill="url(#gD)" opacity="1.0" filter="url(#f80)"/>
<ellipse cx="85.70" cy="362.00" rx="6.60" ry="4.80" fill="#303030" opacity="1.0" filter="url(#f90)"/>
<path d="M97.54 348.00 L99.46 348.00 Q102.96 348.00 103.29 351.50 L104.37 363.00 Q104.70 366.50 101.20 366.50 L95.80 366.50 Q92.30 366.50 92.63 363.00 L93.71 351.50 Q94.04 348.00 97.54 348.00 Z" fill="url(#gD)" opacity="1.0" filter="url(#f80)"/>
<ellipse cx="98.50" cy="362.00" rx="6.50" ry="4.80" fill="#303030" opacity="1.0" filter="url(#f90)"/>
<path d="M111.60 351.00 L111.80 351.00 Q115.30 351.00 115.62 354.50 L116.38 363.00 Q116.70 366.50 113.20 366.50 L110.20 366.50 Q106.70 366.50 107.02 363.00 L107.78 354.50 Q108.10 351.00 111.60 351.00 Z" fill="url(#gE)" opacity="1.0" filter="url(#f80)"/>
<ellipse cx="111.70" cy="362.00" rx="5.30" ry="4.80" fill="#303030" opacity="1.0" filter="url(#f90)"/>
<path d="M124.16 349.00 L125.44 349.00 Q128.94 349.00 129.26 352.50 L130.23 363.00 Q130.55 366.50 127.05 366.50 L122.55 366.50 Q119.05 366.50 119.37 363.00 L120.34 352.50 Q120.66 349.00 124.16 349.00 Z" fill="url(#gD)" opacity="1.0" filter="url(#f80)"/>
<ellipse cx="124.80" cy="362.00" rx="6.05" ry="4.80" fill="#303030" opacity="1.0" filter="url(#f90)"/>
<path d="M137.20 348.00 L139.20 348.00 Q142.70 348.00 143.03 351.50 L144.12 363.00 Q144.45 366.50 140.95 366.50 L135.45 366.50 Q131.95 366.50 132.28 363.00 L133.37 351.50 Q133.70 348.00 137.20 348.00 Z" fill="url(#gD)" opacity="1.0" filter="url(#f80)"/>
<ellipse cx="138.20" cy="362.00" rx="6.55" ry="4.80" fill="#303030" opacity="1.0" filter="url(#f90)"/>
<path d="M151.40 352.00 L151.60 352.00 Q155.10 352.00 155.44 355.50 L156.16 363.00 Q156.50 366.50 153.00 366.50 L150.00 366.50 Q146.50 366.50 146.84 363.00 L147.56 355.50 Q147.90 352.00 151.40 352.00 Z" fill="url(#gE)" opacity="1.0" filter="url(#f80)"/>
<ellipse cx="151.50" cy="362.00" rx="5.30" ry="4.80" fill="#303030" opacity="1.0" filter="url(#f90)"/>
<path d="M163.62 347.00 L165.98 347.00 Q169.48 347.00 169.81 350.50 L170.97 363.00 Q171.30 366.50 167.80 366.50 L161.80 366.50 Q158.30 366.50 158.63 363.00 L159.79 350.50 Q160.12 347.00 163.62 347.00 Z" fill="url(#gD)" opacity="1.0" filter="url(#f80)"/>
<ellipse cx="164.80" cy="362.00" rx="6.80" ry="4.80" fill="#303030" opacity="1.0" filter="url(#f90)"/>
<path d="M176.89 347.50 L179.11 347.50 Q182.61 347.50 182.94 351.00 L184.07 363.00 Q184.40 366.50 180.90 366.50 L175.10 366.50 Q171.60 366.50 171.93 363.00 L173.06 351.00 Q173.39 347.50 176.89 347.50 Z" fill="url(#gD)" opacity="1.0" filter="url(#f80)"/>
<ellipse cx="178.00" cy="362.00" rx="6.70" ry="4.80" fill="#303030" opacity="1.0" filter="url(#f90)"/>
<rect x="37.8" y="344.0" width="148.00" height="27.40" fill="none" stroke="#151515" stroke-width="1.3"/>
<text x="271" y="13.9" font-size="17.5" text-anchor="start" font-weight="bold" >B</text>
<polyline points="325.3,17.0 353.0,33.3 380.2,51.9 407.4,47.5" fill="none" stroke="#111" stroke-width="1.35"/>
<polyline points="325.3,17.0 353.0,16.5 380.2,30.3 407.4,30.3" fill="none" stroke="#111" stroke-width="1.35"/>
<polyline points="325.3,17.0 353.0,27.5 380.2,44.8 407.4,43.6" fill="none" stroke="#111" stroke-width="1.35"/>
<rect x="325.3" y="8.9" width="82.30" height="45.00" fill="none" stroke="#111" stroke-width="1.1"/>
<line x1="322.8" y1="17" x2="325.3" y2="17" stroke="#111" stroke-width="1"/>
<text x="319.90000000000003" y="20.9" font-size="9.2" text-anchor="end" font-weight="bold" >1.0</text>
<line x1="322.8" y1="36.8" x2="325.3" y2="36.8" stroke="#111" stroke-width="1"/>
<text x="319.90000000000003" y="40.699999999999996" font-size="9.2" text-anchor="end" font-weight="bold" >0.5</text>
<line x1="353.0498" y1="53.9" x2="353.0498" y2="55.9" stroke="#111" stroke-width="1"/>
<line x1="380.22490000000005" y1="53.9" x2="380.22490000000005" y2="55.9" stroke="#111" stroke-width="1"/>
<rect x="323.2" y="14.9" width="4.2" height="4.2" fill="#fff" stroke="#111" stroke-width="1"/>
<rect x="350.9498" y="31.199999999999996" width="4.2" height="4.2" fill="#fff" stroke="#111" stroke-width="1"/>
<rect x="378.1249" y="49.8" width="4.2" height="4.2" fill="#fff" stroke="#111" stroke-width="1"/>
<rect x="405.3" y="45.4" width="4.2" height="4.2" fill="#fff" stroke="#111" stroke-width="1"/>
<circle cx="325.3" cy="17" r="2.6" fill="#111"/>
<circle cx="353.0498" cy="16.5" r="2.6" fill="#111"/>
<circle cx="380.22490000000005" cy="30.3" r="2.6" fill="#111"/>
<circle cx="407.40000000000003" cy="30.3" r="2.6" fill="#111"/>
<rect x="323.0" y="14.7" width="4.6" height="4.6" fill="#111"/>
<rect x="350.7498" y="25.2" width="4.6" height="4.6" fill="#111"/>
<rect x="377.92490000000004" y="42.5" width="4.6" height="4.6" fill="#111"/>
<rect x="405.1" y="41.300000000000004" width="4.6" height="4.6" fill="#111"/>
<polyline points="431.3,17.0 459.3,52.5 486.8,48.5 514.2,50.0" fill="none" stroke="#111" stroke-width="1.35"/>
<polyline points="431.3,17.0 459.3,53.0 486.8,49.0 514.2,51.0" fill="none" stroke="#111" stroke-width="1.35"/>
<polyline points="431.3,17.0 459.3,52.0 486.8,50.0 514.2,52.8" fill="none" stroke="#111" stroke-width="1.35"/>
<polyline points="431.3,17.0 459.3,51.0 486.8,47.5 514.2,48.5" fill="none" stroke="#111" stroke-width="1.35"/>
<polyline points="431.3,17.0 459.3,30.7 486.8,28.9 514.2,48.5" fill="none" stroke="#111" stroke-width="1.35"/>
<polyline points="431.3,17.0 459.3,20.9 486.8,16.0 514.2,48.0" fill="none" stroke="#111" stroke-width="1.35"/>
<polyline points="431.3,17.0" fill="none" stroke="#111" stroke-width="1.35"/>
<rect x="431.3" y="9.4" width="83.10" height="45.20" fill="none" stroke="#111" stroke-width="1.1"/>
<line x1="428.8" y1="16.9" x2="431.3" y2="16.9" stroke="#111" stroke-width="1"/>
<text x="425.90000000000003" y="20.799999999999997" font-size="9.2" text-anchor="end" font-weight="bold" >1.0</text>
<line x1="428.8" y1="36.8" x2="431.3" y2="36.8" stroke="#111" stroke-width="1"/>
<text x="425.90000000000003" y="40.699999999999996" font-size="9.2" text-anchor="end" font-weight="bold" >0.5</text>
<line x1="459.3202" y1="54.6" x2="459.3202" y2="56.6" stroke="#111" stroke-width="1"/>
<line x1="486.76009999999997" y1="54.6" x2="486.76009999999997" y2="56.6" stroke="#111" stroke-width="1"/>
<circle cx="431.3" cy="17" r="2.6" fill="#111"/>
<circle cx="459.3202" cy="52.5" r="2.6" fill="#111"/>
<circle cx="486.76009999999997" cy="48.5" r="2.6" fill="#111"/>
<circle cx="514.1999999999999" cy="50" r="2.6" fill="#111"/>
<circle cx="431.3" cy="17" r="2.3" fill="#fff" stroke="#111" stroke-width="1"/>
<circle cx="459.3202" cy="53" r="2.3" fill="#fff" stroke="#111" stroke-width="1"/>
<circle cx="486.76009999999997" cy="49" r="2.3" fill="#fff" stroke="#111" stroke-width="1"/>
<circle cx="514.1999999999999" cy="51" r="2.3" fill="#fff" stroke="#111" stroke-width="1"/>
<rect x="429.2" y="14.9" width="4.2" height="4.2" fill="#fff" stroke="#111" stroke-width="1"/>
<rect x="457.2202" y="49.9" width="4.2" height="4.2" fill="#fff" stroke="#111" stroke-width="1"/>
<rect x="484.66009999999994" y="47.9" width="4.2" height="4.2" fill="#fff" stroke="#111" stroke-width="1"/>
<rect x="512.0999999999999" y="50.699999999999996" width="4.2" height="4.2" fill="#fff" stroke="#111" stroke-width="1"/>
<rect x="429.0" y="14.7" width="4.6" height="4.6" fill="#111"/>
<rect x="457.0202" y="48.7" width="4.6" height="4.6" fill="#111"/>
<rect x="484.46009999999995" y="45.2" width="4.6" height="4.6" fill="#111"/>
<rect x="511.8999999999999" y="46.2" width="4.6" height="4.6" fill="#111"/>
<path d="M431.3,14.0 L434.3,19.1 L428.3,19.1 Z" fill="#111"/>
<path d="M459.3202,27.7 L462.3202,32.8 L456.3202,32.8 Z" fill="#111"/>
<path d="M486.76009999999997,25.9 L489.76009999999997,31.0 L483.76009999999997,31.0 Z" fill="#111"/>
<path d="M514.1999999999999,45.5 L517.1999999999999,50.6 L511.19999999999993,50.6 Z" fill="#111"/>
<path d="M431.3,14.2 L434.1,18.9 L428.5,18.9 Z" fill="#fff" stroke="#111" stroke-width="1"/>
<path d="M459.3202,18.099999999999998 L462.1202,22.799999999999997 L456.5202,22.799999999999997 Z" fill="#fff" stroke="#111" stroke-width="1"/>
<path d="M486.76009999999997,13.2 L489.5601,17.9 L483.96009999999995,17.9 Z" fill="#fff" stroke="#111" stroke-width="1"/>
<path d="M514.1999999999999,45.2 L516.9999999999999,49.9 L511.3999999999999,49.9 Z" fill="#fff" stroke="#111" stroke-width="1"/>
<rect x="429.2" y="14.9" width="4.2" height="4.2" fill="#fff" stroke="#111" stroke-width="1"/>
<polyline points="325.3,66.0 353.0,100.7 380.2,102.0 407.4,102.0" fill="none" stroke="#111" stroke-width="1.35"/>
<polyline points="325.3,66.0 353.0,93.6 380.2,87.4 407.4,92.7" fill="none" stroke="#111" stroke-width="1.35"/>
<polyline points="325.3,66.0 353.0,95.7 380.2,97.0 407.4,97.1" fill="none" stroke="#111" stroke-width="1.35"/>
<rect x="325.3" y="58.5" width="82.30" height="44.30" fill="none" stroke="#111" stroke-width="1.1"/>
<line x1="322.8" y1="66" x2="325.3" y2="66" stroke="#111" stroke-width="1"/>
<text x="319.90000000000003" y="69.9" font-size="9.2" text-anchor="end" font-weight="bold" >1.0</text>
<line x1="322.8" y1="83.5" x2="325.3" y2="83.5" stroke="#111" stroke-width="1"/>
<text x="319.90000000000003" y="87.4" font-size="9.2" text-anchor="end" font-weight="bold" >0.5</text>
<line x1="353.0498" y1="102.8" x2="353.0498" y2="104.8" stroke="#111" stroke-width="1"/>
<line x1="380.22490000000005" y1="102.8" x2="380.22490000000005" y2="104.8" stroke="#111" stroke-width="1"/>
<rect x="323.0" y="63.7" width="4.6" height="4.6" fill="#111"/>
<rect x="350.7498" y="98.4" width="4.6" height="4.6" fill="#111"/>
<rect x="377.92490000000004" y="99.7" width="4.6" height="4.6" fill="#111"/>
<rect x="405.1" y="99.7" width="4.6" height="4.6" fill="#111"/>
<circle cx="325.3" cy="66" r="2.6" fill="#111"/>
<circle cx="353.0498" cy="93.6" r="2.6" fill="#111"/>
<circle cx="380.22490000000005" cy="87.4" r="2.6" fill="#111"/>
<circle cx="407.40000000000003" cy="92.7" r="2.6" fill="#111"/>
<rect x="323.2" y="63.9" width="4.2" height="4.2" fill="#fff" stroke="#111" stroke-width="1"/>
<rect x="350.9498" y="93.60000000000001" width="4.2" height="4.2" fill="#fff" stroke="#111" stroke-width="1"/>
<rect x="378.1249" y="94.9" width="4.2" height="4.2" fill="#fff" stroke="#111" stroke-width="1"/>
<rect x="405.3" y="95.0" width="4.2" height="4.2" fill="#fff" stroke="#111" stroke-width="1"/>
<polyline points="431.8,66.5 459.7,93.0 487.1,90.0 514.4,94.0" fill="none" stroke="#111" stroke-width="1.35"/>
<polyline points="431.8,66.5 459.7,94.0 487.1,92.0 514.4,92.5" fill="none" stroke="#111" stroke-width="1.35"/>
<polyline points="431.8,66.5 459.7,95.0 487.1,93.5 514.4,95.0" fill="none" stroke="#111" stroke-width="1.35"/>
<polyline points="431.8,66.5 459.7,96.5 487.1,95.0 514.4,97.0" fill="none" stroke="#111" stroke-width="1.35"/>
<polyline points="431.8,66.5 459.7,97.5 487.1,95.7 514.4,98.4" fill="none" stroke="#111" stroke-width="1.35"/>
<rect x="431.8" y="59.2" width="82.80" height="43.60" fill="none" stroke="#111" stroke-width="1.1"/>
<line x1="429.3" y1="66.5" x2="431.8" y2="66.5" stroke="#111" stroke-width="1"/>
<text x="426.40000000000003" y="70.4" font-size="9.2" text-anchor="end" font-weight="bold" >1.0</text>
<line x1="429.3" y1="84.2" x2="431.8" y2="84.2" stroke="#111" stroke-width="1"/>
<text x="426.40000000000003" y="88.10000000000001" font-size="9.2" text-anchor="end" font-weight="bold" >0.5</text>
<line x1="459.7188" y1="102.8" x2="459.7188" y2="104.8" stroke="#111" stroke-width="1"/>
<line x1="487.0594" y1="102.8" x2="487.0594" y2="104.8" stroke="#111" stroke-width="1"/>
<circle cx="431.8" cy="66.5" r="2.6" fill="#111"/>
<circle cx="459.7188" cy="93" r="2.6" fill="#111"/>
<circle cx="487.0594" cy="90" r="2.6" fill="#111"/>
<circle cx="514.4" cy="94" r="2.6" fill="#111"/>
<circle cx="431.8" cy="66.5" r="2.3" fill="#fff" stroke="#111" stroke-width="1"/>
<circle cx="459.7188" cy="94" r="2.3" fill="#fff" stroke="#111" stroke-width="1"/>
<circle cx="487.0594" cy="92" r="2.3" fill="#fff" stroke="#111" stroke-width="1"/>
<circle cx="514.4" cy="92.5" r="2.3" fill="#fff" stroke="#111" stroke-width="1"/>
<path d="M431.8,63.5 L434.8,68.6 L428.8,68.6 Z" fill="#111"/>
<path d="M459.7188,92.0 L462.7188,97.1 L456.7188,97.1 Z" fill="#111"/>
<path d="M487.0594,90.5 L490.0594,95.6 L484.0594,95.6 Z" fill="#111"/>
<path d="M514.4,92.0 L517.4,97.1 L511.4,97.1 Z" fill="#111"/>
<rect x="429.5" y="64.2" width="4.6" height="4.6" fill="#111"/>
<rect x="457.4188" y="94.2" width="4.6" height="4.6" fill="#111"/>
<rect x="484.75939999999997" y="92.7" width="4.6" height="4.6" fill="#111"/>
<rect x="512.1" y="94.7" width="4.6" height="4.6" fill="#111"/>
<rect x="429.7" y="64.4" width="4.2" height="4.2" fill="#fff" stroke="#111" stroke-width="1"/>
<rect x="457.61879999999996" y="95.4" width="4.2" height="4.2" fill="#fff" stroke="#111" stroke-width="1"/>
<rect x="484.95939999999996" y="93.60000000000001" width="4.2" height="4.2" fill="#fff" stroke="#111" stroke-width="1"/>
<rect x="512.3" y="96.30000000000001" width="4.2" height="4.2" fill="#fff" stroke="#111" stroke-width="1"/>
<polyline points="325.5,115.5 353.3,133.5 380.6,136.2 407.8,124.0" fill="none" stroke="#111" stroke-width="1.35"/>
<polyline points="325.5,115.5 353.3,134.0 380.6,135.9 407.8,146.5" fill="none" stroke="#111" stroke-width="1.35"/>
<polyline points="325.5,115.5 353.3,132.3 380.6,141.5 407.8,146.5" fill="none" stroke="#111" stroke-width="1.35"/>
<rect x="325.5" y="107.7" width="82.50" height="44.80" fill="none" stroke="#111" stroke-width="1.1"/>
<line x1="323.0" y1="115.4" x2="325.5" y2="115.4" stroke="#111" stroke-width="1"/>
<text x="320.1" y="119.30000000000001" font-size="9.2" text-anchor="end" font-weight="bold" >1.0</text>
<line x1="323.0" y1="134.6" x2="325.5" y2="134.6" stroke="#111" stroke-width="1"/>
<text x="320.1" y="138.5" font-size="9.2" text-anchor="end" font-weight="bold" >0.5</text>
<line x1="353.3174" y1="152.5" x2="353.3174" y2="154.5" stroke="#111" stroke-width="1"/>
<line x1="380.5587" y1="152.5" x2="380.5587" y2="154.5" stroke="#111" stroke-width="1"/>
<circle cx="325.5" cy="115.5" r="2.6" fill="#111"/>
<circle cx="353.3174" cy="133.5" r="2.6" fill="#111"/>
<circle cx="380.5587" cy="136.2" r="2.6" fill="#111"/>
<circle cx="407.8" cy="124" r="2.6" fill="#111"/>
<rect x="323.2" y="113.2" width="4.6" height="4.6" fill="#111"/>
<rect x="351.0174" y="131.7" width="4.6" height="4.6" fill="#111"/>
<rect x="378.2587" y="133.6" width="4.6" height="4.6" fill="#111"/>
<rect x="405.5" y="144.2" width="4.6" height="4.6" fill="#111"/>
<rect x="323.4" y="113.4" width="4.2" height="4.2" fill="#fff" stroke="#111" stroke-width="1"/>
<rect x="351.2174" y="130.20000000000002" width="4.2" height="4.2" fill="#fff" stroke="#111" stroke-width="1"/>
<rect x="378.45869999999996" y="139.4" width="4.2" height="4.2" fill="#fff" stroke="#111" stroke-width="1"/>
<rect x="405.7" y="144.4" width="4.2" height="4.2" fill="#fff" stroke="#111" stroke-width="1"/>
<polyline points="432.0,115.9 459.8,128.2 487.0,145.0 514.2,143.8" fill="none" stroke="#111" stroke-width="1.35"/>
<polyline points="432.0,115.9 459.8,133.5 487.0,146.0 514.2,145.0" fill="none" stroke="#111" stroke-width="1.35"/>
<polyline points="432.0,115.9 459.8,135.5 487.0,147.0 514.2,146.5" fill="none" stroke="#111" stroke-width="1.35"/>
<polyline points="432.0,115.9 459.8,142.0 487.0,148.2 514.2,150.9" fill="none" stroke="#111" stroke-width="1.35"/>
<polyline points="432.0,115.9 459.8,139.4 487.0,147.5 514.2,148.5" fill="none" stroke="#111" stroke-width="1.35"/>
<rect x="432" y="108.1" width="82.40" height="44.20" fill="none" stroke="#111" stroke-width="1.1"/>
<line x1="429.5" y1="115.7" x2="432" y2="115.7" stroke="#111" stroke-width="1"/>
<text x="426.6" y="119.60000000000001" font-size="9.2" text-anchor="end" font-weight="bold" >1.0</text>
<line x1="429.5" y1="135.2" x2="432" y2="135.2" stroke="#111" stroke-width="1"/>
<text x="426.6" y="139.1" font-size="9.2" text-anchor="end" font-weight="bold" >0.5</text>
<line x1="459.7836" y1="152.3" x2="459.7836" y2="154.3" stroke="#111" stroke-width="1"/>
<line x1="486.99179999999996" y1="152.3" x2="486.99179999999996" y2="154.3" stroke="#111" stroke-width="1"/>
<circle cx="432" cy="115.9" r="2.6" fill="#111"/>
<circle cx="459.7836" cy="128.2" r="2.6" fill="#111"/>
<circle cx="486.99179999999996" cy="145" r="2.6" fill="#111"/>
<circle cx="514.1999999999999" cy="143.8" r="2.6" fill="#111"/>
<path d="M432,113.10000000000001 L434.8,117.80000000000001 L429.2,117.80000000000001 Z" fill="#fff" stroke="#111" stroke-width="1"/>
<path d="M459.7836,130.7 L462.5836,135.4 L456.98359999999997,135.4 Z" fill="#fff" stroke="#111" stroke-width="1"/>
<path d="M486.99179999999996,143.2 L489.79179999999997,147.9 L484.19179999999994,147.9 Z" fill="#fff" stroke="#111" stroke-width="1"/>
<path d="M514.1999999999999,142.2 L516.9999999999999,146.9 L511.3999999999999,146.9 Z" fill="#fff" stroke="#111" stroke-width="1"/>
<path d="M432,112.9 L435.0,118.0 L429.0,118.0 Z" fill="#111"/>
<path d="M459.7836,132.5 L462.7836,137.6 L456.7836,137.6 Z" fill="#111"/>
<path d="M486.99179999999996,144.0 L489.99179999999996,149.1 L483.99179999999996,149.1 Z" fill="#111"/>
<path d="M514.1999999999999,143.5 L517.1999999999999,148.6 L511.19999999999993,148.6 Z" fill="#111"/>
<rect x="429.7" y="113.60000000000001" width="4.6" height="4.6" fill="#111"/>
<rect x="457.48359999999997" y="139.7" width="4.6" height="4.6" fill="#111"/>
<rect x="484.69179999999994" y="145.89999999999998" width="4.6" height="4.6" fill="#111"/>
<rect x="511.8999999999999" y="148.6" width="4.6" height="4.6" fill="#111"/>
<rect x="429.9" y="113.80000000000001" width="4.2" height="4.2" fill="#fff" stroke="#111" stroke-width="1"/>
<rect x="457.68359999999996" y="137.3" width="4.2" height="4.2" fill="#fff" stroke="#111" stroke-width="1"/>
<rect x="484.89179999999993" y="145.4" width="4.2" height="4.2" fill="#fff" stroke="#111" stroke-width="1"/>
<rect x="512.0999999999999" y="146.4" width="4.2" height="4.2" fill="#fff" stroke="#111" stroke-width="1"/>
<polyline points="325.6,185.4 353.5,191.5 380.7,163.5 408.0,183.3" fill="none" stroke="#111" stroke-width="1.35"/>
<polyline points="325.6,185.4 353.5,193.0 380.7,165.5 408.0,181.0" fill="none" stroke="#111" stroke-width="1.35"/>
<polyline points="325.6,185.4 353.5,189.5 380.7,185.2 408.0,186.3" fill="none" stroke="#111" stroke-width="1.35"/>
<polyline points="325.6,185.4 353.5,184.0 380.7,161.0 408.0,166.8" fill="none" stroke="#111" stroke-width="1.35"/>
<polyline points="325.6,185.4" fill="none" stroke="#111" stroke-width="1.35"/>
<rect x="325.6" y="157.1" width="82.60" height="43.70" fill="none" stroke="#111" stroke-width="1.1"/>
<line x1="323.1" y1="167.3" x2="325.6" y2="167.3" stroke="#111" stroke-width="1"/>
<text x="320.20000000000005" y="171.20000000000002" font-size="9.2" text-anchor="end" font-weight="bold" >2.0</text>
<line x1="323.1" y1="185.5" x2="325.6" y2="185.5" stroke="#111" stroke-width="1"/>
<text x="320.20000000000005" y="189.4" font-size="9.2" text-anchor="end" font-weight="bold" >1.0</text>
<line x1="353.45120000000003" y1="200.8" x2="353.45120000000003" y2="202.8" stroke="#111" stroke-width="1"/>
<line x1="380.7256" y1="200.8" x2="380.7256" y2="202.8" stroke="#111" stroke-width="1"/>
<circle cx="325.6" cy="185.4" r="2.6" fill="#111"/>
<circle cx="353.45120000000003" cy="191.5" r="2.6" fill="#111"/>
<circle cx="380.7256" cy="163.5" r="2.6" fill="#111"/>
<circle cx="408.0" cy="183.3" r="2.6" fill="#111"/>
<rect x="323.3" y="183.1" width="4.6" height="4.6" fill="#111"/>
<rect x="351.1512" y="190.7" width="4.6" height="4.6" fill="#111"/>
<rect x="378.4256" y="163.2" width="4.6" height="4.6" fill="#111"/>
<rect x="405.7" y="178.7" width="4.6" height="4.6" fill="#111"/>
<rect x="323.5" y="183.3" width="4.2" height="4.2" fill="#fff" stroke="#111" stroke-width="1"/>
<rect x="351.3512" y="187.4" width="4.2" height="4.2" fill="#fff" stroke="#111" stroke-width="1"/>
<rect x="378.62559999999996" y="183.1" width="4.2" height="4.2" fill="#fff" stroke="#111" stroke-width="1"/>
<rect x="405.9" y="184.20000000000002" width="4.2" height="4.2" fill="#fff" stroke="#111" stroke-width="1"/>
<circle cx="325.6" cy="185.4" r="2.6" fill="#111"/>
<circle cx="353.45120000000003" cy="184" r="2.6" fill="#111"/>
<circle cx="380.7256" cy="161" r="2.6" fill="#111"/>
<circle cx="408.0" cy="166.8" r="2.6" fill="#111"/>
<rect x="323.3" y="183.1" width="4.6" height="4.6" fill="#111"/>
<polyline points="432.2,198.1 459.9,163.6 487.1,190.2 514.3,198.7" fill="none" stroke="#111" stroke-width="1.35"/>
<polyline points="432.2,198.1 459.9,170.7 487.1,188.5 514.3,193.4" fill="none" stroke="#111" stroke-width="1.35"/>
<polyline points="432.2,198.1 459.9,173.9 487.1,185.0 514.3,190.5" fill="none" stroke="#111" stroke-width="1.35"/>
<polyline points="432.2,198.1 459.9,176.0 487.1,186.0 514.3,188.0" fill="none" stroke="#111" stroke-width="1.35"/>
<polyline points="432.2,198.1 459.9,182.2 487.1,187.0 514.3,176.0" fill="none" stroke="#111" stroke-width="1.35"/>
<polyline points="432.2,198.1 459.9,180.0 487.1,184.0 514.3,179.5" fill="none" stroke="#111" stroke-width="1.35"/>
<rect x="432.2" y="157.4" width="82.30" height="43.40" fill="none" stroke="#111" stroke-width="1.1"/>
<line x1="429.7" y1="162.1" x2="432.2" y2="162.1" stroke="#111" stroke-width="1"/>
<text x="426.8" y="166.0" font-size="9.2" text-anchor="end" font-weight="bold" >15</text>
<line x1="429.7" y1="175" x2="432.2" y2="175" stroke="#111" stroke-width="1"/>
<text x="426.8" y="178.9" font-size="9.2" text-anchor="end" font-weight="bold" >10</text>
<line x1="429.7" y1="188.2" x2="432.2" y2="188.2" stroke="#111" stroke-width="1"/>
<text x="426.8" y="192.1" font-size="9.2" text-anchor="end" font-weight="bold" >5</text>
<line x1="429.7" y1="198.4" x2="432.2" y2="198.4" stroke="#111" stroke-width="1"/>
<text x="426.8" y="202.3" font-size="9.2" text-anchor="end" font-weight="bold" >1</text>
<line x1="459.9498" y1="200.8" x2="459.9498" y2="202.8" stroke="#111" stroke-width="1"/>
<line x1="487.12489999999997" y1="200.8" x2="487.12489999999997" y2="202.8" stroke="#111" stroke-width="1"/>
<path d="M432.2,195.29999999999998 L435.0,200.0 L429.4,200.0 Z" fill="#fff" stroke="#111" stroke-width="1"/>
<path d="M459.9498,160.79999999999998 L462.7498,165.5 L457.14979999999997,165.5 Z" fill="#fff" stroke="#111" stroke-width="1"/>
<path d="M487.12489999999997,187.39999999999998 L489.9249,192.1 L484.32489999999996,192.1 Z" fill="#fff" stroke="#111" stroke-width="1"/>
<path d="M514.3,195.89999999999998 L517.0999999999999,200.6 L511.49999999999994,200.6 Z" fill="#fff" stroke="#111" stroke-width="1"/>
<path d="M432.2,195.1 L435.2,200.2 L429.2,200.2 Z" fill="#111"/>
<path d="M459.9498,167.7 L462.9498,172.79999999999998 L456.9498,172.79999999999998 Z" fill="#111"/>
<path d="M487.12489999999997,185.5 L490.12489999999997,190.6 L484.12489999999997,190.6 Z" fill="#111"/>
<path d="M514.3,190.4 L517.3,195.5 L511.29999999999995,195.5 Z" fill="#111"/>
<circle cx="432.2" cy="198.1" r="2.6" fill="#111"/>
<circle cx="459.9498" cy="173.9" r="2.6" fill="#111"/>
<circle cx="487.12489999999997" cy="185" r="2.6" fill="#111"/>
<circle cx="514.3" cy="190.5" r="2.6" fill="#111"/>
<circle cx="432.2" cy="198.1" r="2.3" fill="#fff" stroke="#111" stroke-width="1"/>
<circle cx="459.9498" cy="176" r="2.3" fill="#fff" stroke="#111" stroke-width="1"/>
<circle cx="487.12489999999997" cy="186" r="2.3" fill="#fff" stroke="#111" stroke-width="1"/>
<circle cx="514.3" cy="188" r="2.3" fill="#fff" stroke="#111" stroke-width="1"/>
<rect x="430.09999999999997" y="196.0" width="4.2" height="4.2" fill="#fff" stroke="#111" stroke-width="1"/>
<rect x="457.84979999999996" y="180.1" width="4.2" height="4.2" fill="#fff" stroke="#111" stroke-width="1"/>
<rect x="485.02489999999995" y="184.9" width="4.2" height="4.2" fill="#fff" stroke="#111" stroke-width="1"/>
<rect x="512.1999999999999" y="173.9" width="4.2" height="4.2" fill="#fff" stroke="#111" stroke-width="1"/>
<rect x="429.9" y="195.79999999999998" width="4.6" height="4.6" fill="#111"/>
<rect x="457.64979999999997" y="177.7" width="4.6" height="4.6" fill="#111"/>
<rect x="484.82489999999996" y="181.7" width="4.6" height="4.6" fill="#111"/>
<rect x="511.99999999999994" y="177.2" width="4.6" height="4.6" fill="#111"/>
<polyline points="325.8,212.0 353.5,247.6 380.7,247.6 407.9,247.6" fill="none" stroke="#111" stroke-width="1.35"/>
<rect x="325.8" y="204.8" width="82.30" height="43.10" fill="none" stroke="#111" stroke-width="1.1"/>
<line x1="323.3" y1="212.1" x2="325.8" y2="212.1" stroke="#111" stroke-width="1"/>
<text x="320.40000000000003" y="216.0" font-size="9.2" text-anchor="end" font-weight="bold" >1.0</text>
<line x1="323.3" y1="229.8" x2="325.8" y2="229.8" stroke="#111" stroke-width="1"/>
<text x="320.40000000000003" y="233.70000000000002" font-size="9.2" text-anchor="end" font-weight="bold" >0.5</text>
<line x1="353.5498" y1="247.9" x2="353.5498" y2="249.9" stroke="#111" stroke-width="1"/>
<line x1="380.72490000000005" y1="247.9" x2="380.72490000000005" y2="249.9" stroke="#111" stroke-width="1"/>
<rect x="323.7" y="209.9" width="4.2" height="4.2" fill="#fff" stroke="#111" stroke-width="1"/>
<rect x="351.4498" y="245.5" width="4.2" height="4.2" fill="#fff" stroke="#111" stroke-width="1"/>
<rect x="378.6249" y="245.5" width="4.2" height="4.2" fill="#fff" stroke="#111" stroke-width="1"/>
<rect x="405.8" y="245.5" width="4.2" height="4.2" fill="#fff" stroke="#111" stroke-width="1"/>
<polyline points="432.7,212.4 460.3,247.6 487.4,247.6 514.4,247.6" fill="none" stroke="#111" stroke-width="1.35"/>
<polyline points="460.3,247.4 487.4,247.4 514.4,247.4" fill="none" stroke="#111" stroke-width="1.35"/>
<rect x="432.7" y="205.1" width="81.90" height="43.10" fill="none" stroke="#111" stroke-width="1.1"/>
<line x1="430.2" y1="212.2" x2="432.7" y2="212.2" stroke="#111" stroke-width="1"/>
<text x="427.3" y="216.1" font-size="9.2" text-anchor="end" font-weight="bold" >1.0</text>
<line x1="430.2" y1="230.3" x2="432.7" y2="230.3" stroke="#111" stroke-width="1"/>
<text x="427.3" y="234.20000000000002" font-size="9.2" text-anchor="end" font-weight="bold" >0.5</text>
<line x1="460.3146" y1="248.2" x2="460.3146" y2="250.2" stroke="#111" stroke-width="1"/>
<line x1="487.3573" y1="248.2" x2="487.3573" y2="250.2" stroke="#111" stroke-width="1"/>
<rect x="430.59999999999997" y="210.3" width="4.2" height="4.2" fill="#fff" stroke="#111" stroke-width="1"/>
<rect x="458.21459999999996" y="245.5" width="4.2" height="4.2" fill="#fff" stroke="#111" stroke-width="1"/>
<rect x="485.2573" y="245.5" width="4.2" height="4.2" fill="#fff" stroke="#111" stroke-width="1"/>
<rect x="512.3" y="245.5" width="4.2" height="4.2" fill="#fff" stroke="#111" stroke-width="1"/>
<rect x="458.0146" y="245.1" width="4.6" height="4.6" fill="#111"/>
<rect x="485.0573" y="245.1" width="4.6" height="4.6" fill="#111"/>
<rect x="512.1" y="245.1" width="4.6" height="4.6" fill="#111"/>
<polyline points="326.1,259.5 353.9,290.5 381.1,292.0 408.3,288.4" fill="none" stroke="#111" stroke-width="1.35"/>
<polyline points="326.1,259.5 353.9,291.5 381.1,292.5 408.3,292.5" fill="none" stroke="#111" stroke-width="1.35"/>
<polyline points="326.1,259.5 353.9,292.2 381.1,293.7 408.3,293.7" fill="none" stroke="#111" stroke-width="1.35"/>
<polyline points="326.1,259.5" fill="none" stroke="#111" stroke-width="1.35"/>
<rect x="326.1" y="252.4" width="82.40" height="42.60" fill="none" stroke="#111" stroke-width="1.1"/>
<line x1="323.6" y1="259.7" x2="326.1" y2="259.7" stroke="#111" stroke-width="1"/>
<text x="320.70000000000005" y="263.59999999999997" font-size="9.2" text-anchor="end" font-weight="bold" >1.0</text>
<line x1="323.6" y1="277.1" x2="326.1" y2="277.1" stroke="#111" stroke-width="1"/>
<text x="320.70000000000005" y="281.0" font-size="9.2" text-anchor="end" font-weight="bold" >0.5</text>
<line x1="353.8836" y1="295" x2="353.8836" y2="297" stroke="#111" stroke-width="1"/>
<line x1="381.09180000000003" y1="295" x2="381.09180000000003" y2="297" stroke="#111" stroke-width="1"/>
<circle cx="353.8836" cy="290.5" r="2.6" fill="#111"/>
<circle cx="381.09180000000003" cy="292" r="2.6" fill="#111"/>
<circle cx="408.3" cy="288.4" r="2.6" fill="#111"/>
<rect x="351.5836" y="289.2" width="4.6" height="4.6" fill="#111"/>
<rect x="378.7918" y="290.2" width="4.6" height="4.6" fill="#111"/>
<rect x="406.0" y="290.2" width="4.6" height="4.6" fill="#111"/>
<rect x="351.7836" y="290.09999999999997" width="4.2" height="4.2" fill="#fff" stroke="#111" stroke-width="1"/>
<rect x="378.9918" y="291.59999999999997" width="4.2" height="4.2" fill="#fff" stroke="#111" stroke-width="1"/>
<rect x="406.2" y="291.59999999999997" width="4.2" height="4.2" fill="#fff" stroke="#111" stroke-width="1"/>
<circle cx="326.1" cy="259.5" r="2.3" fill="#fff" stroke="#111" stroke-width="1"/>
<polyline points="432.7,259.9 460.4,279.0 487.6,286.0 514.8,288.7" fill="none" stroke="#111" stroke-width="1.35"/>
<polyline points="432.7,259.9 460.4,285.2 487.6,281.3 514.8,290.5" fill="none" stroke="#111" stroke-width="1.35"/>
<polyline points="432.7,259.9 460.4,287.8 487.6,288.4 514.8,292.2" fill="none" stroke="#111" stroke-width="1.35"/>
<polyline points="432.7,259.9 460.4,289.0 487.6,286.0 514.8,290.5" fill="none" stroke="#111" stroke-width="1.35"/>
<polyline points="432.7,259.9 460.4,286.5 487.6,292.2 514.8,289.0" fill="none" stroke="#111" stroke-width="1.35"/>
<rect x="432.7" y="252.6" width="82.30" height="43.40" fill="none" stroke="#111" stroke-width="1.1"/>
<line x1="430.2" y1="260" x2="432.7" y2="260" stroke="#111" stroke-width="1"/>
<text x="427.3" y="263.9" font-size="9.2" text-anchor="end" font-weight="bold" >1.0</text>
<line x1="430.2" y1="278.2" x2="432.7" y2="278.2" stroke="#111" stroke-width="1"/>
<text x="427.3" y="282.09999999999997" font-size="9.2" text-anchor="end" font-weight="bold" >0.5</text>
<line x1="460.4498" y1="296" x2="460.4498" y2="298" stroke="#111" stroke-width="1"/>
<line x1="487.62489999999997" y1="296" x2="487.62489999999997" y2="298" stroke="#111" stroke-width="1"/>
<circle cx="432.7" cy="259.9" r="2.6" fill="#111"/>
<circle cx="460.4498" cy="279" r="2.6" fill="#111"/>
<circle cx="487.62489999999997" cy="286" r="2.6" fill="#111"/>
<circle cx="514.8" cy="288.7" r="2.6" fill="#111"/>
<circle cx="432.7" cy="259.9" r="2.3" fill="#fff" stroke="#111" stroke-width="1"/>
<circle cx="460.4498" cy="285.2" r="2.3" fill="#fff" stroke="#111" stroke-width="1"/>
<circle cx="487.62489999999997" cy="281.3" r="2.3" fill="#fff" stroke="#111" stroke-width="1"/>
<circle cx="514.8" cy="290.5" r="2.3" fill="#fff" stroke="#111" stroke-width="1"/>
<path d="M432.7,256.9 L435.7,262.0 L429.7,262.0 Z" fill="#111"/>
<path d="M460.4498,284.8 L463.4498,289.90000000000003 L457.4498,289.90000000000003 Z" fill="#111"/>
<path d="M487.62489999999997,285.4 L490.62489999999997,290.5 L484.62489999999997,290.5 Z" fill="#111"/>
<path d="M514.8,289.2 L517.8,294.3 L511.79999999999995,294.3 Z" fill="#111"/>
<rect x="430.4" y="257.59999999999997" width="4.6" height="4.6" fill="#111"/>
<rect x="458.14979999999997" y="286.7" width="4.6" height="4.6" fill="#111"/>
<rect x="485.32489999999996" y="283.7" width="4.6" height="4.6" fill="#111"/>
<rect x="512.5" y="288.2" width="4.6" height="4.6" fill="#111"/>
<rect x="430.59999999999997" y="257.79999999999995" width="4.2" height="4.2" fill="#fff" stroke="#111" stroke-width="1"/>
<rect x="458.34979999999996" y="284.4" width="4.2" height="4.2" fill="#fff" stroke="#111" stroke-width="1"/>
<rect x="485.52489999999995" y="290.09999999999997" width="4.2" height="4.2" fill="#fff" stroke="#111" stroke-width="1"/>
<rect x="512.6999999999999" y="286.9" width="4.2" height="4.2" fill="#fff" stroke="#111" stroke-width="1"/>
<polyline points="326.5,307.5 354.6,341.2 381.7,342.0 409.0,343.5" fill="none" stroke="#111" stroke-width="1.35"/>
<polyline points="326.5,307.5 354.6,340.7 381.7,341.5 409.0,342.8" fill="none" stroke="#111" stroke-width="1.35"/>
<polyline points="326.5,307.5" fill="none" stroke="#111" stroke-width="1.35"/>
<rect x="326.2" y="299.4" width="83.20" height="46.20" fill="none" stroke="#111" stroke-width="1.1"/>
<line x1="323.7" y1="307.6" x2="326.2" y2="307.6" stroke="#111" stroke-width="1"/>
<text x="320.8" y="311.5" font-size="9.2" text-anchor="end" font-weight="bold" >1.0</text>
<line x1="323.7" y1="325.6" x2="326.2" y2="325.6" stroke="#111" stroke-width="1"/>
<text x="320.8" y="329.5" font-size="9.2" text-anchor="end" font-weight="bold" >0.5</text>
<line x1="354.6" y1="345.6" x2="354.6" y2="347.6" stroke="#111" stroke-width="1"/>
<line x1="381.7" y1="345.6" x2="381.7" y2="347.6" stroke="#111" stroke-width="1"/>
<rect x="352.3" y="338.9" width="4.6" height="4.6" fill="#111"/>
<rect x="379.4" y="339.7" width="4.6" height="4.6" fill="#111"/>
<rect x="406.7" y="341.2" width="4.6" height="4.6" fill="#111"/>
<rect x="352.5" y="338.59999999999997" width="4.2" height="4.2" fill="#fff" stroke="#111" stroke-width="1"/>
<rect x="379.59999999999997" y="339.4" width="4.2" height="4.2" fill="#fff" stroke="#111" stroke-width="1"/>
<rect x="406.9" y="340.7" width="4.2" height="4.2" fill="#fff" stroke="#111" stroke-width="1"/>
<circle cx="326.5" cy="307.5" r="2.3" fill="#fff" stroke="#111" stroke-width="1"/>
<polyline points="432.9,323.0 461.5,330.0 488.7,334.8 515.0,340.7" fill="none" stroke="#111" stroke-width="1.35"/>
<polyline points="432.9,323.0 461.5,331.6 488.7,343.0 515.0,344.0" fill="none" stroke="#111" stroke-width="1.35"/>
<polyline points="432.9,323.0 461.5,328.6 488.7,342.4 515.0,343.5" fill="none" stroke="#111" stroke-width="1.35"/>
<polyline points="432.9,323.0 461.5,317.5 488.7,341.4 515.0,342.5" fill="none" stroke="#111" stroke-width="1.35"/>
<polyline points="432.9,323.0 461.5,304.2 488.7,341.9 515.0,341.4" fill="none" stroke="#111" stroke-width="1.35"/>
<rect x="432.7" y="299" width="82.70" height="47.60" fill="none" stroke="#111" stroke-width="1.1"/>
<line x1="430.2" y1="311.1" x2="432.7" y2="311.1" stroke="#111" stroke-width="1"/>
<text x="427.3" y="315.0" font-size="9.2" text-anchor="end" font-weight="bold" >1.5</text>
<line x1="430.2" y1="323.2" x2="432.7" y2="323.2" stroke="#111" stroke-width="1"/>
<text x="427.3" y="327.09999999999997" font-size="9.2" text-anchor="end" font-weight="bold" >1.0</text>
<line x1="430.2" y1="334.5" x2="432.7" y2="334.5" stroke="#111" stroke-width="1"/>
<text x="427.3" y="338.4" font-size="9.2" text-anchor="end" font-weight="bold" >0.5</text>
<line x1="461.5" y1="346.6" x2="461.5" y2="348.6" stroke="#111" stroke-width="1"/>
<line x1="488.7" y1="346.6" x2="488.7" y2="348.6" stroke="#111" stroke-width="1"/>
<circle cx="432.9" cy="323" r="2.6" fill="#111"/>
<circle cx="461.5" cy="330" r="2.6" fill="#111"/>
<circle cx="488.7" cy="334.8" r="2.6" fill="#111"/>
<circle cx="515" cy="340.7" r="2.6" fill="#111"/>
<rect x="430.59999999999997" y="320.7" width="4.6" height="4.6" fill="#111"/>
<rect x="459.2" y="329.3" width="4.6" height="4.6" fill="#111"/>
<rect x="486.4" y="340.7" width="4.6" height="4.6" fill="#111"/>
<rect x="512.7" y="341.7" width="4.6" height="4.6" fill="#111"/>
<path d="M432.9,320.2 L435.7,324.9 L430.09999999999997,324.9 Z" fill="#fff" stroke="#111" stroke-width="1"/>
<path d="M461.5,325.8 L464.3,330.5 L458.7,330.5 Z" fill="#fff" stroke="#111" stroke-width="1"/>
<path d="M488.7,339.59999999999997 L491.5,344.29999999999995 L485.9,344.29999999999995 Z" fill="#fff" stroke="#111" stroke-width="1"/>
<path d="M515,340.7 L517.8,345.4 L512.2,345.4 Z" fill="#fff" stroke="#111" stroke-width="1"/>
<rect x="430.59999999999997" y="320.7" width="4.6" height="4.6" fill="#111"/>
<rect x="459.2" y="315.2" width="4.6" height="4.6" fill="#111"/>
<rect x="486.4" y="339.09999999999997" width="4.6" height="4.6" fill="#111"/>
<rect x="512.7" y="340.2" width="4.6" height="4.6" fill="#111"/>
<rect x="430.79999999999995" y="320.9" width="4.2" height="4.2" fill="#fff" stroke="#111" stroke-width="1"/>
<rect x="459.4" y="302.09999999999997" width="4.2" height="4.2" fill="#fff" stroke="#111" stroke-width="1"/>
<rect x="486.59999999999997" y="339.79999999999995" width="4.2" height="4.2" fill="#fff" stroke="#111" stroke-width="1"/>
<rect x="512.9" y="339.29999999999995" width="4.2" height="4.2" fill="#fff" stroke="#111" stroke-width="1"/>
<text x="272.5" y="33.6" font-size="9.0" text-anchor="start" font-weight="bold" >TGF-<tspan font-weight="normal">β</tspan></text>
<text x="272.5" y="78.4" font-size="9.0" text-anchor="start" font-weight="bold" >G-CSFR</text>
<text x="272.5" y="129.4" font-size="9.0" text-anchor="start" font-weight="bold" >gp130</text>
<text x="272.5" y="177.2" font-size="9.0" text-anchor="start" font-weight="bold" >c-myc</text>
<text x="272.5" y="226.2" font-size="9.0" text-anchor="start" font-weight="bold" >c-fos</text>
<text x="272.5" y="271.6" font-size="9.0" text-anchor="start" font-weight="bold" >c-jun</text>
<text x="272.5" y="323.7" font-size="9.0" text-anchor="start" font-weight="bold" >Id</text>
<text x="326.5" y="358.9" font-size="8.9" text-anchor="middle" font-weight="bold" >0</text>
<text x="354.6" y="358.9" font-size="8.9" text-anchor="middle" font-weight="bold" >1</text>
<text x="382.3" y="358.9" font-size="8.9" text-anchor="middle" font-weight="bold" >3</text>
<text x="408.5" y="358.9" font-size="8.9" text-anchor="middle" font-weight="bold" >5</text>
<text x="435.3" y="358.6" font-size="8.9" text-anchor="middle" font-weight="bold" >0</text>
<text x="462" y="358.6" font-size="8.9" text-anchor="middle" font-weight="bold" >1</text>
<text x="489.5" y="358.6" font-size="8.9" text-anchor="middle" font-weight="bold" >3</text>
<text x="515" y="358.6" font-size="8.9" text-anchor="middle" font-weight="bold" >5</text>
<text x="371.5" y="369.1" font-size="9.3" text-anchor="middle" font-weight="bold" >Days</text>
<text x="478.5" y="369.8" font-size="9.3" text-anchor="middle" font-weight="bold" >Days</text>
</svg></body></html>
